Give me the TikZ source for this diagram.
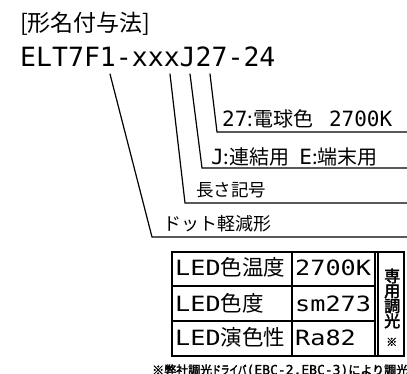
\documentclass[tikz,border=0pt]{standalone}
\usepackage{fontspec}
\usepackage{graphicx}
\newfontfamily\jp{Noto Sans CJK JP}
\newfontfamily\jpb[FakeBold=2.5]{Noto Sans CJK JP}
\newfontfamily\mono{DejaVu Sans Mono}
\newfontfamily\monob[FakeBold=1.5]{DejaVu Sans Mono}
\newfontfamily\monow[FakeStretch=1.2]{DejaVu Sans Mono}
\newcommand\fsz[1]{\fontsize{#1}{#1}\selectfont}
\begin{document}
\begin{tikzpicture}[x=1pt,y=-1pt,
  ln/.style={line width=1.2pt, line cap=round, line join=miter},
  grid/.style={line width=1.2pt},
  lbl/.style={inner sep=0pt, anchor=base west},
  cell/.style={inner sep=0pt, anchor=base west}]
\useasboundingbox (0,0) rectangle (407,374);
\clip (0,0) rectangle (407,374);

% title and model
\node[lbl] (title) at (20,32) {\jp\fsz{23}[形名付与法]};
\node[lbl] (model) at (20,67) {\mono\fsz{26.5}ELT7F1-xxxJ27-24};

% labels
\node[lbl] (l4) at (222,127) {\mono\fsz{21}27{\jp\fsz{20}:電球色}\hspace{16pt}2700K};
\node[lbl] (l3) at (211,165) {\mono\fsz{21}J{\jp\fsz{20}:連結用}\hspace{10pt}E{\jp\fsz{20}:端末用}};
\node[lbl] (l2) at (196,197) {\jp\fsz{17.5}長さ記号};
\node[lbl] (l1) at (163,231) {\jp\fsz{18}ドット軽減形};

% connectors
\coordinate (s1) at (110,74);  \coordinate (e1) at (152,237); \coordinate (r1) at (407,237);
\coordinate (s2) at (170,74);  \coordinate (e2) at (185,203); \coordinate (r2) at (407,203);
\coordinate (s3) at (190,74);  \coordinate (e3) at (202,168); \coordinate (r3) at (407,168);
\coordinate (s4) at (210,74);  \coordinate (e4) at (217,132); \coordinate (r4) at (407,132);
\draw[ln] (s1) -- (e1) -- (r1);
\draw[ln] (s2) -- (e2) -- (r2);
\draw[ln] (s3) -- (e3) -- (r3);
\draw[ln] (s4) -- (e4) -- (r4);

% table grid
\draw[grid] (172,252) rectangle (404,356);
\draw[grid] (172,286) -- (375,286);
\draw[grid] (172,321) -- (375,321);
\draw[grid] (292,252) -- (292,356);
\draw[grid] (375,252) -- (375,356);
\draw[grid] (378,252) -- (378,356);

% table texts
\node[cell] (a1) at (175,276) {\monow\fsz{21}LED{\jp\fsz{21.5}色温度}};
\node[cell] (a2) at (175,311) {\monow\fsz{21}LED{\jp\fsz{21.5}色度}};
\node[cell] (a3) at (175,345) {\monow\fsz{21}LED{\jp\fsz{21.5}演色性}};
\node[cell] (b1) at (295,276) {\monow\fsz{21}2700K};
\node[cell] (b2) at (295,311) {\monow\fsz{21}sm273};
\node[cell] (b3) at (295,345) {\monow\fsz{21}Ra82};
\node[cell] (d1) at (384,282) {\jpb\fsz{16}専};
\node[cell] (d2) at (384,297) {\jpb\fsz{16}用};
\node[cell] (d3) at (384,312) {\jpb\fsz{16}調};
\node[cell] (d4) at (384,327) {\jpb\fsz{16}光};
\node[cell] (d5) at (386,346) {\jpb\fsz{11}※};

% note
\node[lbl] (note) at (152,374.5) {\jpb\fsz{12}※弊社調光\scalebox{0.72}[1]{ドライバ}{\monob\fsz{13}(EBC-2,EBC-3)}により調光可能};
\end{tikzpicture}
\end{document}
